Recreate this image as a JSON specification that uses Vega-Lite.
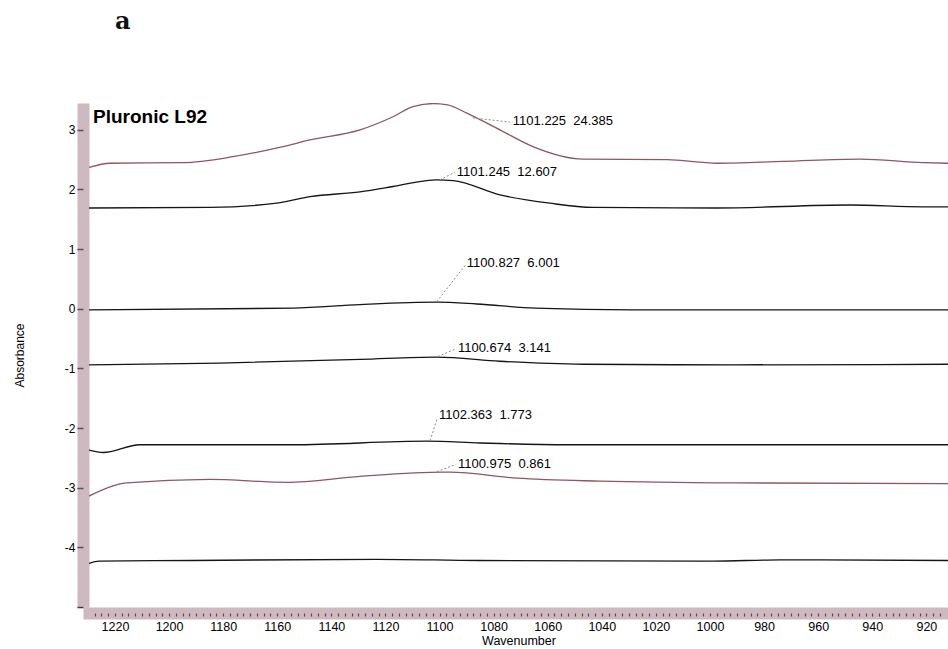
{
  "$schema": "https://vega.github.io/schema/vega-lite/v6.json",
  "autosize": {"type": "none"},
  "width": 859,
  "height": 504,
  "padding": {"left": 89, "top": 103, "right": 0, "bottom": 42},
  "background": "white",
  "view": {"stroke": null},
  "title": {"text": "a", "anchor": "start", "frame": "group", "dx": 26, "offset": 50, "baseline": "alphabetic", "font": "DejaVu Serif", "fontSize": 24, "fontWeight": "bold", "color": "#111"},
  "datasets": {
    "spectra": [
      {"s": "s1", "w": 1229.6, "a": 2.37}, {"s": "s1", "w": 1221.8, "a": 2.44}, {"s": "s1", "w": 1194.9, "a": 2.45}, {"s": "s1", "w": 1176.4, "a": 2.55}, {"s": "s1", "w": 1157.9, "a": 2.72}, {"s": "s1", "w": 1147.9, "a": 2.83}, {"s": "s1", "w": 1129.4, "a": 3.0}, {"s": "s1", "w": 1117.2, "a": 3.22}, {"s": "s1", "w": 1109.8, "a": 3.39}, {"s": "s1", "w": 1102.4, "a": 3.44}, {"s": "s1", "w": 1097.0, "a": 3.42}, {"s": "s1", "w": 1089.9, "a": 3.28}, {"s": "s1", "w": 1077.7, "a": 3.0}, {"s": "s1", "w": 1065.5, "a": 2.72}, {"s": "s1", "w": 1047.0, "a": 2.51}, {"s": "s1", "w": 1015.9, "a": 2.5}, {"s": "s1", "w": 997.5, "a": 2.44}, {"s": "s1", "w": 973.0, "a": 2.47}, {"s": "s1", "w": 944.6, "a": 2.51}, {"s": "s1", "w": 921.3, "a": 2.45}, {"s": "s1", "w": 912.0, "a": 2.44},
      {"s": "s2", "w": 1229.6, "a": 1.69}, {"s": "s2", "w": 1185.0, "a": 1.7}, {"s": "s2", "w": 1160.2, "a": 1.77}, {"s": "s2", "w": 1147.9, "a": 1.88}, {"s": "s2", "w": 1129.4, "a": 1.96}, {"s": "s2", "w": 1117.2, "a": 2.05}, {"s": "s2", "w": 1104.6, "a": 2.15}, {"s": "s2", "w": 1101.2, "a": 2.16}, {"s": "s2", "w": 1095.0, "a": 2.15}, {"s": "s2", "w": 1077.7, "a": 1.91}, {"s": "s2", "w": 1059.2, "a": 1.77}, {"s": "s2", "w": 1043.3, "a": 1.7}, {"s": "s2", "w": 997.5, "a": 1.69}, {"s": "s2", "w": 948.3, "a": 1.74}, {"s": "s2", "w": 921.3, "a": 1.71}, {"s": "s2", "w": 912.0, "a": 1.71},
      {"s": "s3", "w": 1229.6, "a": -0.02}, {"s": "s3", "w": 1154.2, "a": 0.01}, {"s": "s3", "w": 1129.4, "a": 0.07}, {"s": "s3", "w": 1101.0, "a": 0.11}, {"s": "s3", "w": 1086.2, "a": 0.08}, {"s": "s3", "w": 1064.6, "a": 0.01}, {"s": "s3", "w": 1028.5, "a": -0.02}, {"s": "s3", "w": 912.0, "a": -0.02},
      {"s": "s4", "w": 1229.6, "a": -0.94}, {"s": "s4", "w": 1181.2, "a": -0.91}, {"s": "s4", "w": 1129.4, "a": -0.85}, {"s": "s4", "w": 1101.0, "a": -0.81}, {"s": "s4", "w": 1077.7, "a": -0.88}, {"s": "s4", "w": 1047.0, "a": -0.93}, {"s": "s4", "w": 991.5, "a": -0.94}, {"s": "s4", "w": 912.0, "a": -0.93},
      {"s": "s5", "w": 1229.6, "a": -2.37}, {"s": "s5", "w": 1224.4, "a": -2.41}, {"s": "s5", "w": 1210.8, "a": -2.28}, {"s": "s5", "w": 1154.2, "a": -2.28}, {"s": "s5", "w": 1104.7, "a": -2.22}, {"s": "s5", "w": 1085.1, "a": -2.25}, {"s": "s5", "w": 1052.9, "a": -2.28}, {"s": "s5", "w": 912.0, "a": -2.28},
      {"s": "s6", "w": 1229.6, "a": -3.14}, {"s": "s6", "w": 1215.6, "a": -2.92}, {"s": "s6", "w": 1185.0, "a": -2.86}, {"s": "s6", "w": 1156.4, "a": -2.91}, {"s": "s6", "w": 1129.4, "a": -2.81}, {"s": "s6", "w": 1098.7, "a": -2.74}, {"s": "s6", "w": 1096.2, "a": -2.74}, {"s": "s6", "w": 1071.4, "a": -2.84}, {"s": "s6", "w": 1040.7, "a": -2.89}, {"s": "s6", "w": 991.5, "a": -2.92}, {"s": "s6", "w": 912.0, "a": -2.93},
      {"s": "s7", "w": 1229.6, "a": -4.27}, {"s": "s7", "w": 1225.9, "a": -4.23}, {"s": "s7", "w": 1191.5, "a": -4.22}, {"s": "s7", "w": 1123.1, "a": -4.2}, {"s": "s7", "w": 1085.1, "a": -4.22}, {"s": "s7", "w": 998.9, "a": -4.23}, {"s": "s7", "w": 974.2, "a": -4.21}, {"s": "s7", "w": 912.0, "a": -4.22}
    ],
    "leaders": [
      {"w": 1087.7, "a": 3.2, "w2": 1074.0, "a2": 3.13},
      {"w": 1099.9, "a": 2.16, "w2": 1094.3, "a2": 2.29},
      {"w": 1101.0, "a": 0.12, "w2": 1090.3, "a2": 0.74},
      {"w": 1100.6, "a": -0.8, "w2": 1093.9, "a2": -0.67},
      {"w": 1103.5, "a": -2.21, "w2": 1101.0, "a2": -1.86},
      {"w": 1101.0, "a": -2.73, "w2": 1094.0, "a2": -2.61}
    ],
    "peaks": [
      {"w": 1072.9, "a": 3.15, "label": "1101.225\u00a0\u00a024.385"},
      {"w": 1093.6, "a": 2.29, "label": "1101.245\u00a0\u00a012.607"},
      {"w": 1089.9, "a": 0.77, "label": "1100.827\u00a0\u00a06.001"},
      {"w": 1093.2, "a": -0.65, "label": "1100.674\u00a0\u00a03.141"},
      {"w": 1100.2, "a": -1.78, "label": "1102.363\u00a0\u00a01.773"},
      {"w": 1093.2, "a": -2.6, "label": "1100.975\u00a0\u00a00.861"}
    ],
    "names": [
      {"w": 1228.1, "a": 3.21, "label": "Pluronic L92"}
    ]
  },
  "encoding": {
    "x": {
      "field": "w", "type": "quantitative",
      "scale": {"domain": [912.0, 1229.6], "reverse": true, "nice": false, "zero": false},
      "axis": {
        "title": "Wavenumber", "orient": "bottom", "offset": 6,
        "domainWidth": 12, "domainColor": "#9b737f", "domainOpacity": 0.5, "domainCap": "square",
        "values": [915, 917.5, 920, 922.5, 925, 927.5, 930, 932.5, 935, 937.5, 940, 942.5, 945, 947.5, 950, 952.5, 955, 957.5, 960, 962.5, 965, 967.5, 970, 972.5, 975, 977.5, 980, 982.5, 985, 987.5, 990, 992.5, 995, 997.5, 1000, 1002.5, 1005, 1007.5, 1010, 1012.5, 1015, 1017.5, 1020, 1022.5, 1025, 1027.5, 1030, 1032.5, 1035, 1037.5, 1040, 1042.5, 1045, 1047.5, 1050, 1052.5, 1055, 1057.5, 1060, 1062.5, 1065, 1067.5, 1070, 1072.5, 1075, 1077.5, 1080, 1082.5, 1085, 1087.5, 1090, 1092.5, 1095, 1097.5, 1100, 1102.5, 1105, 1107.5, 1110, 1112.5, 1115, 1117.5, 1120, 1122.5, 1125, 1127.5, 1130, 1132.5, 1135, 1137.5, 1140, 1142.5, 1145, 1147.5, 1150, 1152.5, 1155, 1157.5, 1160, 1162.5, 1165, 1167.5, 1170, 1172.5, 1175, 1177.5, 1180, 1182.5, 1185, 1187.5, 1190, 1192.5, 1195, 1197.5, 1200, 1202.5, 1205, 1207.5, 1210, 1212.5, 1215, 1217.5, 1220, 1222.5, 1225, 1227.5],
        "labelExpr": "datum.value % 20 == 0 ? '' + datum.value : ''",
        "tickSize": 3, "tickColor": "#2a1518", "tickWidth": 1.2,
        "labelFont": "Liberation Sans", "labelFontSize": 12.5, "labelColor": "#000", "labelPadding": 4,
        "labelOverlap": false, "labelFlush": false, "labelBound": false,
        "titleFont": "Liberation Sans", "titleFontSize": 12.5, "titleFontWeight": "normal", "titleColor": "#000", "titlePadding": 2,
        "grid": false
      }
    },
    "y": {
      "field": "a", "type": "quantitative",
      "scale": {"domain": [-5, 3.45], "nice": false, "zero": false},
      "axis": {
        "title": "Absorbance", "offset": 6,
        "domainWidth": 12, "domainColor": "#9b737f", "domainOpacity": 0.5,
        "values": [-5, -4, -3, -2, -1, 0, 1, 2, 3],
        "labelExpr": "datum.value == -5 ? '' : '' + datum.value",
        "tickSize": 6, "tickColor": "#3a1a20", "tickWidth": 1.5,
        "labelFont": "Liberation Sans", "labelFontSize": 12, "labelColor": "#000", "labelPadding": 2,
        "titleFont": "Liberation Sans", "titleFontSize": 12, "titleFontWeight": "normal", "titleColor": "#000", "titlePadding": 38,
        "grid": false
      }
    }
  },
  "layer": [
    {
      "data": {"name": "spectra"},
      "mark": {"type": "line", "strokeWidth": 1.3, "interpolate": "monotone", "clip": true},
      "encoding": {
        "detail": {"field": "s"},
        "color": {
          "field": "s", "type": "nominal", "legend": null,
          "scale": {"domain": ["s1", "s2", "s3", "s4", "s5", "s6", "s7"], "range": ["#8f5660", "#151515", "#151515", "#151515", "#151515", "#8f5660", "#151515"]}
        }
      }
    },
    {
      "data": {"name": "leaders"},
      "mark": {"type": "rule", "strokeDash": [2, 2], "color": "#8a8a8a", "strokeWidth": 1},
      "encoding": {
        "x2": {"field": "w2"},
        "y2": {"field": "a2"}
      }
    },
    {
      "data": {"name": "peaks"},
      "mark": {"type": "text", "align": "left", "baseline": "middle", "font": "Liberation Sans", "fontSize": 13, "color": "#000"},
      "encoding": {
        "text": {"field": "label"}
      }
    },
    {
      "data": {"name": "names"},
      "mark": {"type": "text", "align": "left", "baseline": "middle", "font": "Liberation Sans", "fontSize": 19, "fontWeight": "bold", "color": "#000"},
      "encoding": {
        "text": {"field": "label"}
      }
    }
  ]
}
